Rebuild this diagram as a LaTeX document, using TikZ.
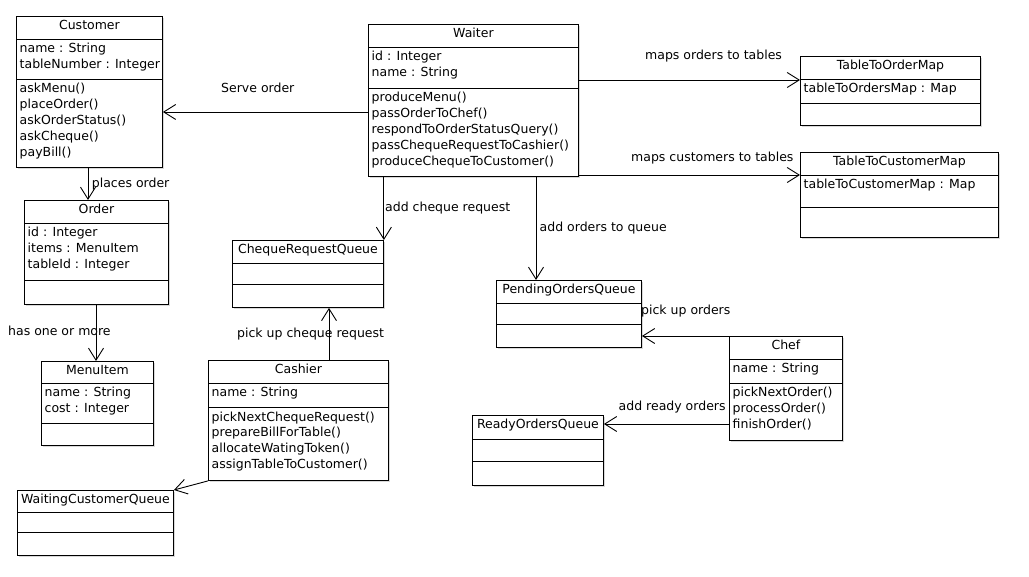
\documentclass[tikz,border=0pt]{standalone}
\usepackage{fontspec}
\setmainfont{DejaVu Sans}
\usetikzlibrary{arrows.meta,calc,shadows}
\newcommand\umlfont{\fontsize{12.5}{16}\selectfont}
\tikzset{
  cls/.style={draw=black, line width=0.9pt, fill=white, anchor=north west, inner sep=0pt,
    drop shadow={opacity=0.3, shadow xshift=1.2pt, shadow yshift=-1.2pt}},
  txt/.style={anchor=base west, inner sep=0pt, font=\umlfont},
  ttl/.style={anchor=base, inner sep=0pt, font=\umlfont},
  lbl/.style={anchor=base west, inner sep=0pt, font=\umlfont},
  divl/.style={line width=0.9pt},
  arr/.style={line width=0.9pt, -{Straight Barb[length=12pt,width=15pt,line width=0.9pt]}},
}
% name, x, y, w, h, d1, d2
\newcommand\umlcls[7]{%
  \node[cls, minimum width=#4pt, minimum height=#5pt] (#1) at (#2,#3) {};
  \draw[divl] ([yshift=-#6pt]#1.north west) -- ([yshift=-#6pt]#1.north east);
  \draw[divl] ([yshift=-#7pt]#1.north west) -- ([yshift=-#7pt]#1.north east);
}
\newcommand\umltitle[2]{\node[ttl] (#1-title) at ($(#1.north)+(0,13.8)$) {#2};}
% name, tag, divider offset, list
\newcommand\umlrows[4]{%
  \foreach \t [count=\i from 0] in {#4} {\node[txt] (#1-#2\i) at ($(#1.north west)+(3.5,{#3+14+15.8*\i})$) {\t};}
}
\begin{document}
\begin{tikzpicture}[x=1pt,y=-1pt]
\useasboundingbox (0,0) rectangle (1029,577);

% Customer
\umlcls{customer}{16}{16}{146}{151}{23}{63}
\umltitle{customer}{Customer}
\umlrows{customer}{a}{23}{name : String,tableNumber : Integer}
\umlrows{customer}{m}{63}{askMenu(),placeOrder(),askOrderStatus(),askCheque(),payBill()}

% Waiter
\umlcls{waiter}{368}{24}{210}{152}{23}{64}
\umltitle{waiter}{Waiter}
\umlrows{waiter}{a}{23}{id : Integer,name : String}
\umlrows{waiter}{m}{64}{produceMenu(),passOrderToChef(),respondToOrderStatusQuery(),passChequeRequestToCashier(),produceChequeToCustomer()}

% TableToOrderMap
\umlcls{t2o}{800}{56}{180}{69}{23}{47}
\umltitle{t2o}{TableToOrderMap}
\umlrows{t2o}{a}{23}{tableToOrdersMap : Map}

% TableToCustomerMap
\umlcls{t2c}{800}{152}{198}{85}{23}{55}
\umltitle{t2c}{TableToCustomerMap}
\umlrows{t2c}{a}{23}{tableToCustomerMap : Map}

% Order
\umlcls{order}{24}{200}{144}{104}{23}{80}
\umltitle{order}{Order}
\umlrows{order}{a}{23}{id : Integer,items : MenuItem,tableId : Integer}

% MenuItem
\umlcls{menuitem}{41}{361}{112}{84}{22}{62}
\umltitle{menuitem}{MenuItem}
\umlrows{menuitem}{a}{22}{name : String,cost : Integer}

% ChequeRequestQueue
\umlcls{crq}{232}{240}{151}{67}{23}{44}
\umltitle{crq}{ChequeRequestQueue}

% PendingOrdersQueue
\umlcls{poq}{496}{280}{145}{67}{23}{44}
\umltitle{poq}{PendingOrdersQueue}

% Cashier
\umlcls{cashier}{208}{360}{180}{120}{23}{47}
\umltitle{cashier}{Cashier}
\umlrows{cashier}{a}{23}{name : String}
\umlrows{cashier}{m}{47}{pickNextChequeRequest(),prepareBillForTable(),allocateWatingToken(),assignTableToCustomer()}

% WaitingCustomerQueue
\umlcls{wcq}{17}{490}{156}{65}{22}{42}
\umltitle{wcq}{WaitingCustomerQueue}

% Chef
\umlcls{chef}{729}{336}{113}{104}{23}{47}
\umltitle{chef}{Chef}
\umlrows{chef}{a}{23}{name : String}
\umlrows{chef}{m}{47}{pickNextOrder(),processOrder(),finishOrder()}

% ReadyOrdersQueue
\umlcls{roq}{472}{415}{131}{70}{24}{46}
\umltitle{roq}{ReadyOrdersQueue}

% Connectors
\coordinate (w-srv) at ([yshift=-88pt]waiter.north west);
\draw[arr] (w-srv) -- (w-srv -| customer.east);

\coordinate (t2o-in) at ([yshift=-24pt]t2o.north west);
\draw[arr] (t2o-in -| waiter.east) -- (t2o-in);

\coordinate (t2c-in) at ([yshift=-23pt]t2c.north west);
\draw[arr] (t2c-in -| waiter.east) -- (t2c-in);

\coordinate (c-po) at ([xshift=72pt]customer.south west);
\draw[arr] (c-po) -- (c-po |- order.north);

\coordinate (o-mi) at ([xshift=72pt]order.south west);
\draw[arr] (o-mi) -- (o-mi |- menuitem.north);

\draw[arr] (crq.north east |- waiter.south) -- (crq.north east);

\coordinate (poq-in) at ([xshift=40pt]poq.north west);
\draw[arr] (poq-in |- waiter.south) -- (poq-in);

\coordinate (crq-in) at ([xshift=97pt]crq.south west);
\draw[arr] (crq-in |- cashier.north) -- (crq-in);

\draw[arr] (cashier.south west) -- (wcq.north east);

\draw[arr] (chef.north west) -- (chef.north west -| poq.east);

\coordinate (chef-ro) at ([yshift=-88pt]chef.north west);
\draw[arr] (chef-ro) -- (chef-ro -| roq.east);

% Labels
\node[lbl] (l-serve) at (221,92.5) {Serve order};
\node[lbl] (l-t2o) at (645,60) {maps orders to tables};
\node[lbl] (l-t2c) at (631,161.7) {maps customers to tables};
\node[lbl] (l-place) at (91.7,188) {places order};
\node[lbl] (l-chq) at (385,211.5) {add cheque request};
\node[lbl] (l-addord) at (539.5,231.5) {add orders to queue};
\node[lbl] (l-has) at (8,336) {has one or more};
\node[lbl] (l-pickchq) at (237,338) {pick up cheque request};
\node[lbl] (l-pickord) at (641,315) {pick up orders};
\node[lbl] (l-ready) at (618.5,410.5) {add ready orders};
\end{tikzpicture}
\end{document}
